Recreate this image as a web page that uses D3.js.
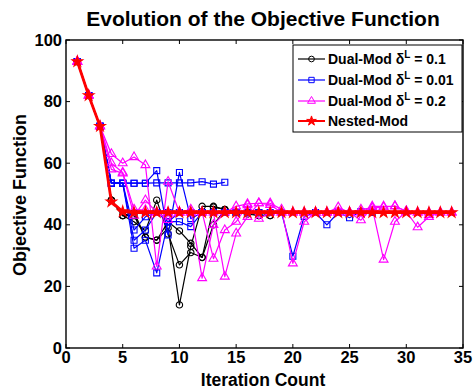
<!DOCTYPE html>
<html>
<head>
<meta charset="utf-8">
<script src="https://cdn.jsdelivr.net/npm/d3@7"></script>
<style>
  html, body { margin: 0; padding: 0; background: #fff; }
  svg { display: block; font-family: "Liberation Sans", Arial, sans-serif; font-weight: bold; }
</style>
</head>
<body>
<svg id="chart" width="475" height="389"></svg>
<script>
// Objective value per iteration (iteration k = index + 1)
const nestedMod = [93,82,72,47.5,44.3,44,44,44,44,44,44,44,44,44,44,44,44,44,44,44,44,44,44,44,44,44,44,44,44,44,44,44,44,44];

// Dual-Mod, delta^L = 0.1 (several runs)
const dual01Runs = [
  [93,82,72,48,43,44,36,35,39,14,33,46,46,45,44,44,44,43],
  [93,82,72,48,43,41,38,48,37,27,31,29.4,40,44.8,44,44,43,43],
  [93,82,72,48,43,43,35.9,35,41,38,34,29.4,45.7,45,44,43.5,43]
];

// Dual-Mod, delta^L = 0.01
const dual001Runs = [
  [93,82,72,53.5,53.5,53.5,53.5,53.6,53.6,53.6,53.6,54,53.2,53.8],
  [93,82,72,53.5,53.5,53.5,53.5,57.6,36.7,57,42,44,44,44,44,44],
  [93,82,72,53.5,53.5,32.4,35,24.4,41,41,39.4,44,44,44,44,44,44],
  [93,82,72,53.5,53.5,38.3,42.6,44,44,44,44,44,44,44,44,44,44,44,44,29.8,42.7,44,40,44,42.3,44.3,44],
  [93,82,72,53.5,53.5,35,38.3,44,41,44,44,44]
];

// Dual-Mod, delta^L = 0.2
const dual02Runs = [
  [93,82,72,63,60,62,59.4,26.5,54,44,45,22.7,40,44,46,46.8,47,47,45,27.5,41,44,44,45.7,44,41.5,45.5,28.7,41,44.3,39.2,42.6,44,44],
  [93,82,72,58,56.7,43,48,44,41.6,44,44,44,29,38.3,41,46.4,42,44,44,44,44,44,44,44,44,44,46,46,46,44.5,44,44],
  [93,82,72,60,57,45,44.8,44,44,44,44,44,44,23.2,37.2,42.6,47,46.5,44,44,44,44,44,44,44,45,45.5,45.7,46.1,44.3,44,43.2,44,44]
];

const xTicks = [0,5,10,15,20,25,30,35];
const yTicks = [0,20,40,60,80,100];

const svg = d3.select("#chart");
const plot = { left: 66, right: 463, top: 40, bottom: 348 };

const x = d3.scaleLinear().domain([0, 35]).range([plot.left, plot.right]);
const y = d3.scaleLinear().domain([0, 100]).range([plot.bottom, plot.top]);

const series = [
  { name: "0.1",  runs: dual01Runs,  color: "#000000", symbol: d3.symbolCircle,   size: 32, fill: "none", width: 1.2 },
  { name: "0.01", runs: dual001Runs, color: "#0000ff", symbol: d3.symbolSquare,   size: 36, fill: "none", width: 1.2 },
  { name: "0.2",  runs: dual02Runs,  color: "#ff00ff", symbol: d3.symbolTriangle, size: 34, fill: "none", width: 1.2 },
  { name: "nested", runs: [nestedMod], color: "#ff0000", symbol: d3.symbolStar,   size: 36, fill: "#ff0000", width: 2.8 }
];

const line = d3.line().x((d, i) => x(i + 1)).y(d => y(d));

svg.append("clipPath").attr("id", "plotClip")
  .append("rect").attr("x", plot.left).attr("y", plot.top)
  .attr("width", plot.right - plot.left).attr("height", plot.bottom - plot.top);

const g = svg.append("g").attr("clip-path", "url(#plotClip)");

series.forEach(s => {
  s.runs.forEach(run => {
    g.append("path").datum(run)
      .attr("d", line)
      .attr("fill", "none")
      .attr("stroke", s.color)
      .attr("stroke-width", s.width)
      .attr("stroke-linejoin", "round");
  });
  s.runs.forEach(run => {
    g.selectAll(null).data(run).enter().append("path")
      .attr("transform", (d, i) => `translate(${x(i + 1)},${y(d)})`)
      .attr("d", d3.symbol().type(s.symbol).size(s.size))
      .attr("fill", s.fill)
      .attr("stroke", s.color)
      .attr("stroke-width", 1.1);
  });
});

// Axes box with inward ticks on all four sides
const axes = svg.append("g");
axes.append("rect")
  .attr("x", plot.left).attr("y", plot.top)
  .attr("width", plot.right - plot.left).attr("height", plot.bottom - plot.top)
  .attr("fill", "none").attr("stroke", "#000").attr("stroke-width", 1.4);

const tickLen = 4;
xTicks.forEach(t => {
  axes.append("line").attr("x1", x(t)).attr("x2", x(t))
    .attr("y1", plot.bottom).attr("y2", plot.bottom - tickLen).attr("stroke", "#000");
  axes.append("line").attr("x1", x(t)).attr("x2", x(t))
    .attr("y1", plot.top).attr("y2", plot.top + tickLen).attr("stroke", "#000");
  axes.append("text").attr("x", x(t)).attr("y", plot.bottom + 15)
    .attr("text-anchor", "middle").attr("font-size", 16.5).text(t);
});
yTicks.forEach(t => {
  axes.append("line").attr("x1", plot.left).attr("x2", plot.left + tickLen)
    .attr("y1", y(t)).attr("y2", y(t)).attr("stroke", "#000");
  axes.append("line").attr("x1", plot.right).attr("x2", plot.right - tickLen)
    .attr("y1", y(t)).attr("y2", y(t)).attr("stroke", "#000");
  axes.append("text").attr("x", plot.left - 4).attr("y", y(t) + 5.5)
    .attr("text-anchor", "end").attr("font-size", 16.5).text(t);
});

// Title and axis labels
svg.append("text").attr("x", 263).attr("y", 26)
  .attr("text-anchor", "middle").attr("font-size", 21)
  .text("Evolution of the Objective Function");
svg.append("text").attr("x", 263).attr("y", 386)
  .attr("text-anchor", "middle").attr("font-size", 17.5)
  .text("Iteration Count");
svg.append("text").attr("transform", "translate(26,195) rotate(-90)")
  .attr("text-anchor", "middle").attr("font-size", 18)
  .text("Objective Function");

// Legend
const legend = svg.append("g");
legend.append("rect").attr("x", 293).attr("y", 45).attr("width", 169).attr("height", 87)
  .attr("fill", "#fff").attr("stroke", "#000").attr("stroke-width", 1);

const legendRows = [
  { s: series[0], label: "0.1", y: 59 },
  { s: series[1], label: "0.01", y: 80 },
  { s: series[2], label: "0.2", y: 101 },
  { s: series[3], label: null, y: 121 }
];
legendRows.forEach(r => {
  legend.append("line").attr("x1", 298).attr("x2", 325).attr("y1", r.y).attr("y2", r.y)
    .attr("stroke", r.s.color).attr("stroke-width", r.s.fill === "none" ? 1.2 : 2);
  legend.append("path").attr("transform", `translate(311.5,${r.y})`)
    .attr("d", d3.symbol().type(r.s.symbol).size(r.s.size * 0.8))
    .attr("fill", r.s.fill).attr("stroke", r.s.color);
  const t = legend.append("text").attr("x", 328).attr("y", r.y + 5).attr("font-size", 14);
  if (r.label === null) {
    t.text("Nested-Mod");
  } else {
    t.append("tspan").text("Dual-Mod \u03b4");
    t.append("tspan").attr("font-size", 10).attr("dy", -6).text("L");
    t.append("tspan").attr("dy", 6).text(" = " + r.label);
  }
});
</script>
</body>
</html>
